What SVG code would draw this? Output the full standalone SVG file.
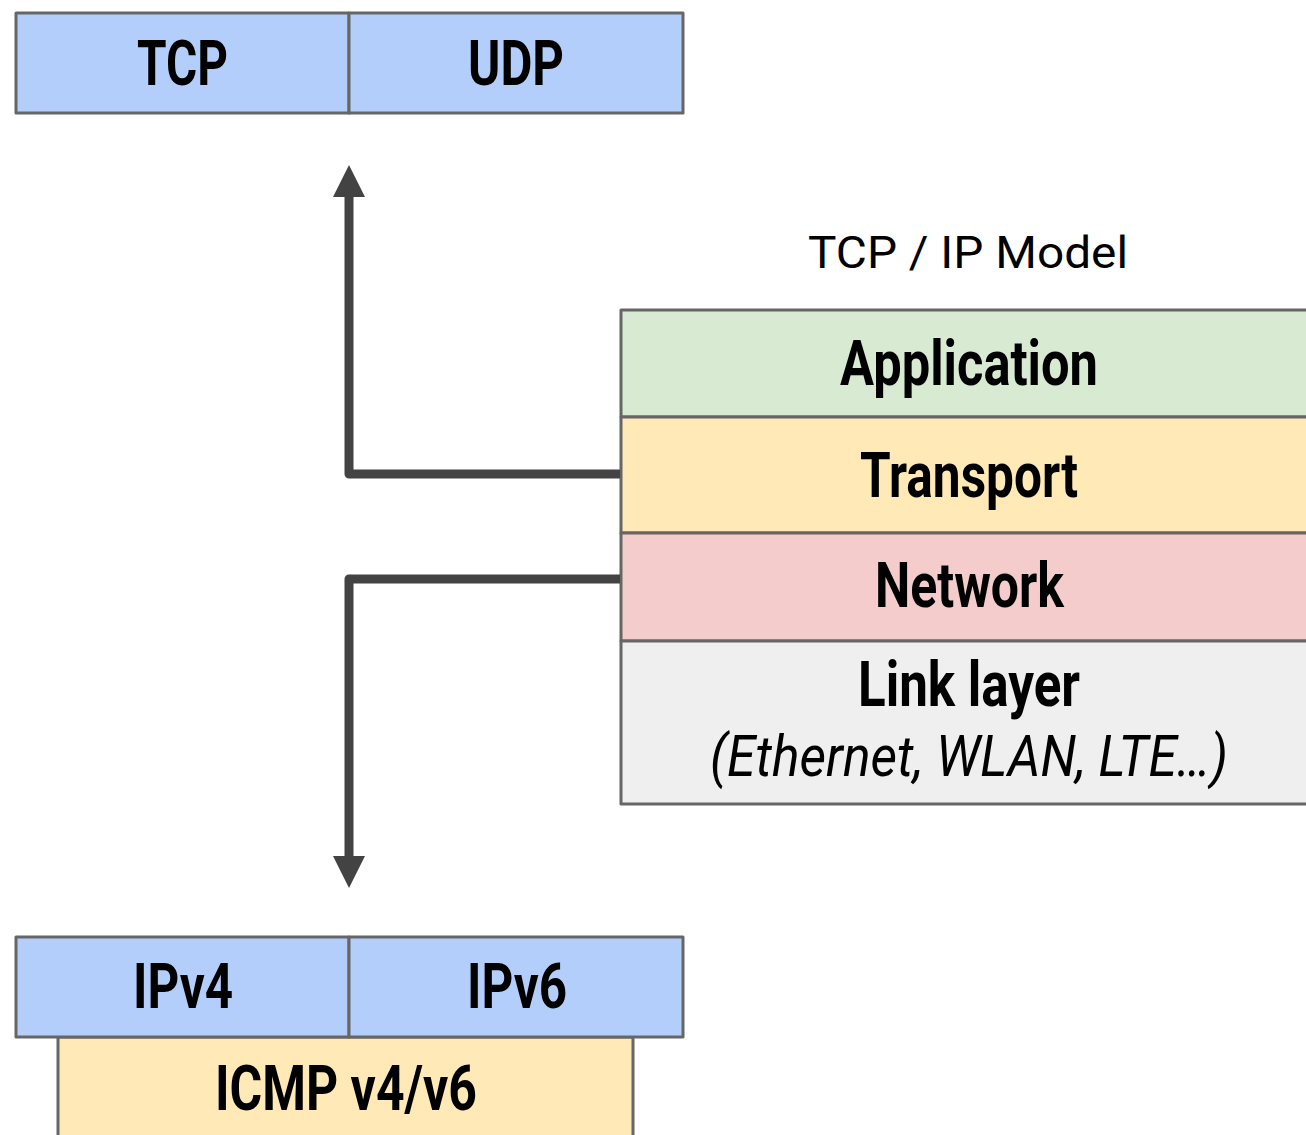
<svg xmlns="http://www.w3.org/2000/svg" width="1306" height="1135" viewBox="0 0 1306 1135">
<style>
.box{stroke:#666666;stroke-width:3;stroke-linejoin:round}
.blue{fill:#b4cefb}
.yellow{fill:#ffe9b6}
.green{fill:#d9ead3}
.red{fill:#f4cccc}
.grey{fill:#efefef}
.lbl{font-family:Roboto,"Liberation Sans",sans-serif;font-weight:bold;font-size:63px;fill:#000000;text-anchor:start}
.it{font-family:Roboto,"Liberation Sans",sans-serif;font-style:italic;font-size:58px;fill:#000000}
.title{font-family:Roboto,"Liberation Sans",sans-serif;font-size:45px;fill:#000000}
.conn{fill:none;stroke:#434343;stroke-width:9;stroke-linejoin:round}
.head{fill:#434343}
</style>
<rect width="1306" height="1135" fill="#ffffff"/>
<g id="tcp">
<rect class="box blue" x="16" y="13" width="333" height="100"/>
<text class="lbl" x="137" y="85" textLength="91" lengthAdjust="spacingAndGlyphs">TCP</text>
</g>
<g id="udp">
<rect class="box blue" x="349" y="13" width="334" height="100"/>
<text class="lbl" x="468" y="85" textLength="96" lengthAdjust="spacingAndGlyphs">UDP</text>
</g>
<g id="title">
<text class="title" x="808" y="268" textLength="320" lengthAdjust="spacingAndGlyphs">TCP / IP Model</text>
</g>
<g id="application">
<rect class="box green" x="621" y="310" width="700" height="107"/>
<text class="lbl" x="840" y="385" textLength="258" lengthAdjust="spacingAndGlyphs">Application</text>
</g>
<g id="transport">
<rect class="box yellow" x="621" y="417" width="700" height="116"/>
<text class="lbl" x="860" y="497" textLength="218" lengthAdjust="spacingAndGlyphs">Transport</text>
</g>
<g id="network">
<rect class="box red" x="621" y="533" width="700" height="108"/>
<text class="lbl" x="875" y="607" textLength="189" lengthAdjust="spacingAndGlyphs">Network</text>
</g>
<g id="link">
<rect class="box grey" x="621" y="641" width="700" height="163"/>
<text class="lbl" x="858" y="706" textLength="222" lengthAdjust="spacingAndGlyphs">Link layer</text>
<text class="it" x="710" y="776" textLength="518" lengthAdjust="spacingAndGlyphs">(Ethernet, WLAN, LTE…)</text>
</g>
<g id="icmp">
<rect class="box yellow" x="58" y="1037" width="575" height="110"/>
<text class="lbl" x="215" y="1110" textLength="262" lengthAdjust="spacingAndGlyphs">ICMP v4/v6</text>
</g>
<g id="ipv4">
<rect class="box blue" x="16" y="937" width="333" height="100"/>
<text class="lbl" x="133" y="1008" textLength="100" lengthAdjust="spacingAndGlyphs">IPv4</text>
</g>
<g id="ipv6">
<rect class="box blue" x="349" y="937" width="334" height="100"/>
<text class="lbl" x="467" y="1008" textLength="100" lengthAdjust="spacingAndGlyphs">IPv6</text>
</g>
<g id="connectors">
<path class="conn" d="M620 474 H349 V194"/>
<polygon class="head" points="349,165 365,197 333,197"/>
<path class="conn" d="M620 579 H349 V860"/>
<polygon class="head" points="349,888 365,856 333,856"/>
</g>
</svg>
